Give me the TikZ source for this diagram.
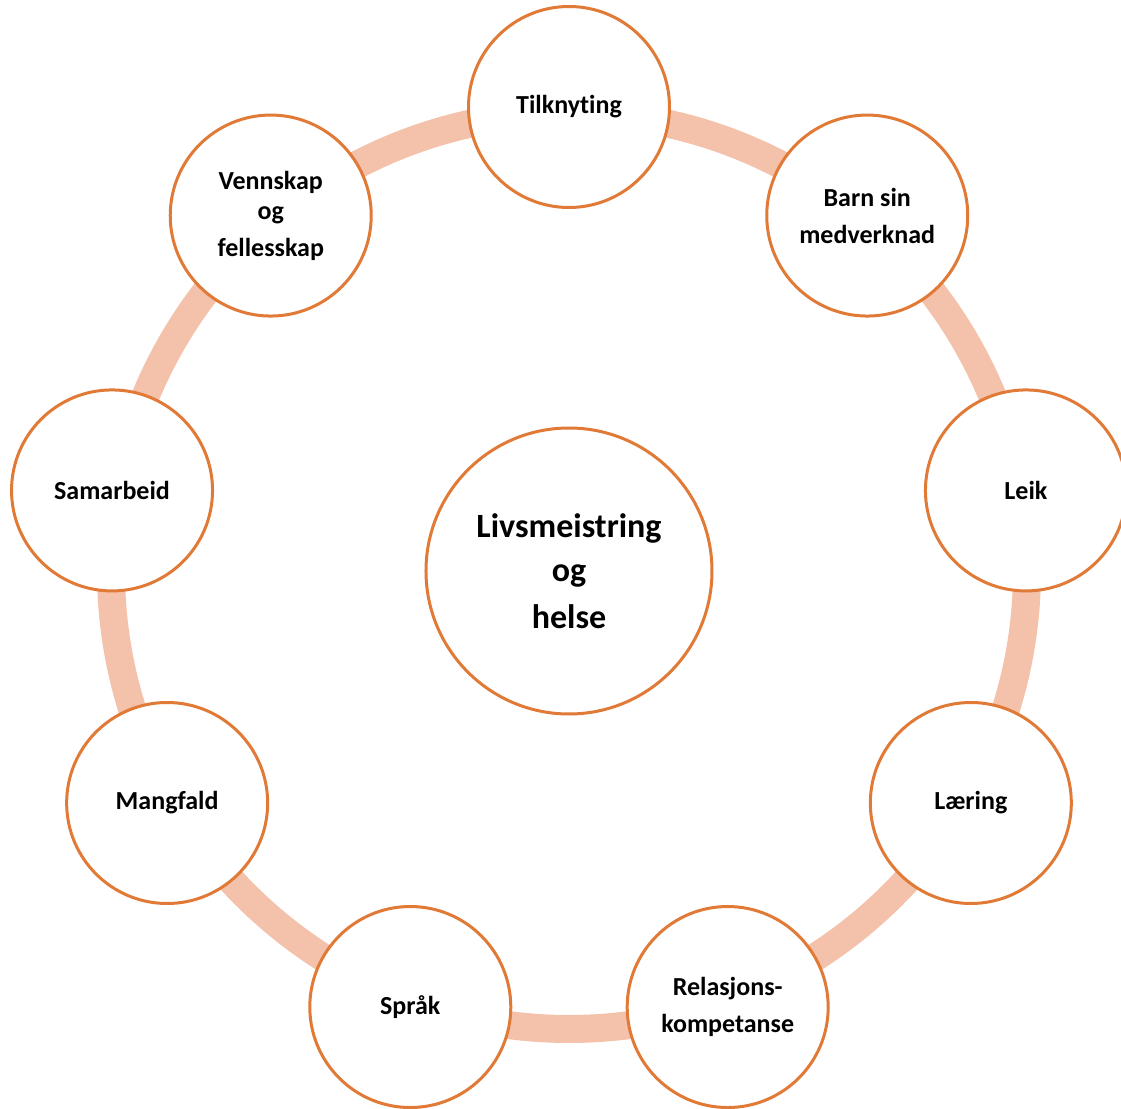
\documentclass[tikz,border=0pt]{standalone}
\usepackage{fontspec}
\setmainfont{Carlito}[RawFeature=-liga]
\definecolor{ringpeach}{HTML}{F4C1AB}
\definecolor{rimorange}{HTML}{E07A36}

\begin{document}
\begin{tikzpicture}[x=0.5pt, y=0.5pt,
  every theme/.style={circle, draw=rimorange, line width=1.5pt, fill=white,
    minimum size=100.5pt, inner sep=0pt, align=center,
    font=\bfseries\fontsize{13}{18.5}\selectfont},
  core/.style={circle, draw=rimorange, line width=1.5pt, fill=white,
    minimum size=143pt, inner sep=0pt, align=center,
    font=\bfseries\fontsize{17}{22}\selectfont},
  band/.style={draw=ringpeach, line width=14pt}]

\useasboundingbox (-569,-538) rectangle (552,571);

\draw [band] (0,0) circle [radius=458];

\node [core] (livs) at (0,0) {Livsmeistring\\og\\[1.5pt]helse};

\foreach \l [count=\i] in {Tilknyting, {Barn sin\\medverknad}, Leik, L\ae ring,
    {Relasjons-\\kompetanse}, Spr\aa k, Mangfald, Samarbeid,
    {Vennskap\\[-3.5pt]og\\fellesskap}}
  \node [every theme/.try] (theme-\i) at ({130-40*\i}:464) {\l};

\end{tikzpicture}
\end{document}
